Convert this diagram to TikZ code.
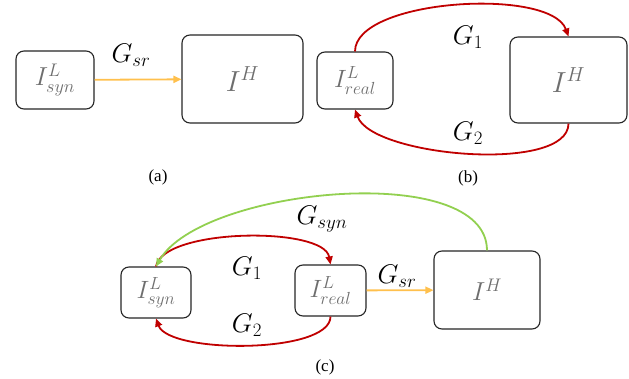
\RequirePackage{fix-cm}
\documentclass[tikz,border=0pt]{standalone}
\usepackage{amsmath,amssymb}
\usepackage[no-math]{fontspec}
\setmainfont{Liberation Serif}
\usepackage{xcolor}
\usetikzlibrary{arrows.meta,positioning}

\definecolor{genred}{HTML}{C00000}
\definecolor{gengreen}{HTML}{92D050}
\definecolor{genorange}{HTML}{FFC04D}
\definecolor{imggray}{HTML}{6E6E6E}

\begin{document}
\begin{tikzpicture}[x=1pt, y=1pt,
    box/.style={draw=black!85, line width=1.1pt, fill=white, text=imggray, rounded corners=8pt, inner sep=0pt},
    lbl/.style={font=\fontsize{27}{29}\selectfont, text=black},
    caption/.style={font=\fontsize{17}{19}\selectfont},
    arrow/.style={-{Triangle[length=8pt,width=7pt]}, line width=1.8pt},
    redarrow/.style={arrow, draw=genred},
    greenarrow/.style={arrow, draw=gengreen},
    orangearrow/.style={arrow, draw=genorange}
]
\useasboundingbox (0,0) rectangle (629,-379);

% (a)
\node[box, minimum width=78pt, minimum height=58pt, font=\fontsize{26}{28}\selectfont] (asyn) at (55,-80) {$I^{L}_{syn}$};
\node[box, minimum width=121pt, minimum height=88pt, font=\fontsize{29}{31}\selectfont] (ahigh) at (242.5,-79) {$I^{H}$};
\draw[orangearrow] (asyn) -- (ahigh);
\node[lbl] (agsr) at (131,-55) {$G_{sr}$};
\node[caption] (acap) at (158,-177) {(a)};

% (b)
\node[box, minimum width=76pt, minimum height=57pt, font=\fontsize{25}{27}\selectfont] (breal) at (355,-80.5) {$I^{L}_{real}$};
\node[box, minimum width=117pt, minimum height=86pt, font=\fontsize{29}{31}\selectfont] (bhigh) at (568.5,-80) {$I^{H}$};
\draw[redarrow] (breal.north) to[out=90, in=110, looseness=0.63] (bhigh.north);
\draw[redarrow] (bhigh.south) to[out=-90, in=-70, looseness=0.6] (breal.south);
\node[lbl] (bgone) at (468,-37) {$G_{1}$};
\node[lbl] (bgtwo) at (468,-133) {$G_{2}$};
\node[caption] (bcap) at (468,-178) {(b)};

% (c)
\node[box, minimum width=70pt, minimum height=51pt, font=\fontsize{25}{27}\selectfont] (csyn) at (156,-292.5) {$I^{L}_{syn}$};
\node[box, minimum width=71pt, minimum height=51pt, font=\fontsize{25}{27}\selectfont] (creal) at (330.5,-290.5) {$I^{L}_{real}$};
\node[box, minimum width=106pt, minimum height=78pt, font=\fontsize{26}{28}\selectfont] (chigh) at (487,-290) {$I^{H}$};
\draw[redarrow] (csyn.north) to[out=80, in=100, looseness=0.57] (creal.north);
\draw[redarrow] (creal.south) to[out=-90, in=-70, looseness=0.55] (csyn.south);
\draw[greenarrow] (chigh.north) to[out=90, in=60, looseness=0.7] (csyn.north);
\draw[orangearrow] (creal) -- (chigh);
\node[lbl] (cgone) at (247,-268) {$G_{1}$};
\node[lbl] (cgtwo) at (247,-325) {$G_{2}$};
\node[lbl] (cgsyn) at (322,-219) {$G_{syn}$};
\node[lbl] (cgsr) at (397,-276) {$G_{sr}$};
\node[caption] (ccap) at (325,-367) {(c)};
\end{tikzpicture}
\end{document}
